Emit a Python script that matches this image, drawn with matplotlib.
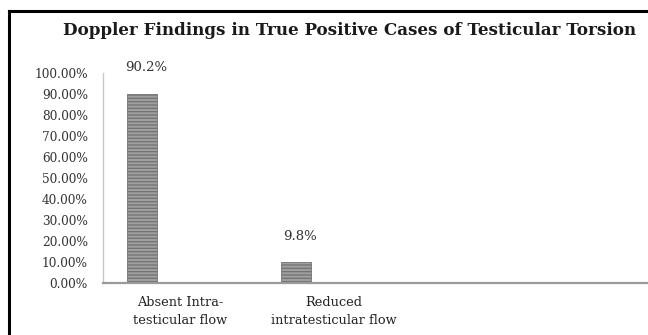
import matplotlib.pyplot as plt
from matplotlib.lines import Line2D
from matplotlib.ticker import FuncFormatter

categories = ["Absent Intra-\ntesticular flow", "Reduced\nintratesticular flow"]
values = [90.2, 9.8]
value_labels = ["90.2%", "9.8%"]
yticks = [0, 10, 20, 30, 40, 50, 60, 70, 80, 90, 100]

plt.rcParams['hatch.linewidth'] = 1.0
fig = plt.figure(figsize=(6.48, 3.35), dpi=100)
ax = fig.add_axes([0.159, 0.155, 0.841, 0.627])

# bars sit in the left slot of each category (clustered layout)
x = list(range(len(categories)))
bar_x = [xi - 0.247 for xi in x]
ax.bar(bar_x, values, width=0.19, color="#a0a0a0", edgecolor="#747474",
       hatch="-----", linewidth=0.6)

for xi, v, lab in zip(bar_x, values, value_labels):
    ax.annotate(lab, (xi, v), xytext=(3, 19), textcoords="offset points",
                ha="center", va="center", fontsize=9.5, color="#333333",
                family="DejaVu Serif")

ax.set_xlim(-0.5, 3.04)
ax.set_ylim(0, 100)
ax.set_yticks(yticks)
ax.yaxis.set_major_formatter(FuncFormatter(lambda v, p: f"{v:.2f}%"))
ax.set_xticks(x)
ax.set_xticklabels(categories, family="DejaVu Serif", fontsize=9.3,
                   color="#222222", linespacing=1.5)

ax.tick_params(axis="y", length=0, pad=11, labelsize=8.7, labelcolor="#333333")
ax.tick_params(axis="x", length=0, pad=9)
for lab in ax.get_yticklabels():
    lab.set_family("DejaVu Serif")

for side in ["top", "right"]:
    ax.spines[side].set_visible(False)
ax.spines["left"].set_color("#c8c8c8")
ax.spines["left"].set_linewidth(1.0)
ax.spines["bottom"].set_color("#9a9a9a")
ax.spines["bottom"].set_linewidth(1.6)

fig.text(0.54, 0.91, "Doppler Findings in True Positive Cases of Testicular Torsion",
         ha="center", va="center", fontsize=12.1, fontweight="bold",
         family="DejaVu Serif", color="#1a1a1a")

# frame lines along the top and left edges
fig.add_artist(Line2D([0.014, 1.0], [0.967, 0.967], color="black", linewidth=2.2,
                      transform=fig.transFigure))
fig.add_artist(Line2D([0.014, 0.014], [0.0, 0.967], color="black", linewidth=2.2,
                      transform=fig.transFigure))

fig.savefig("out.png", dpi=100)
